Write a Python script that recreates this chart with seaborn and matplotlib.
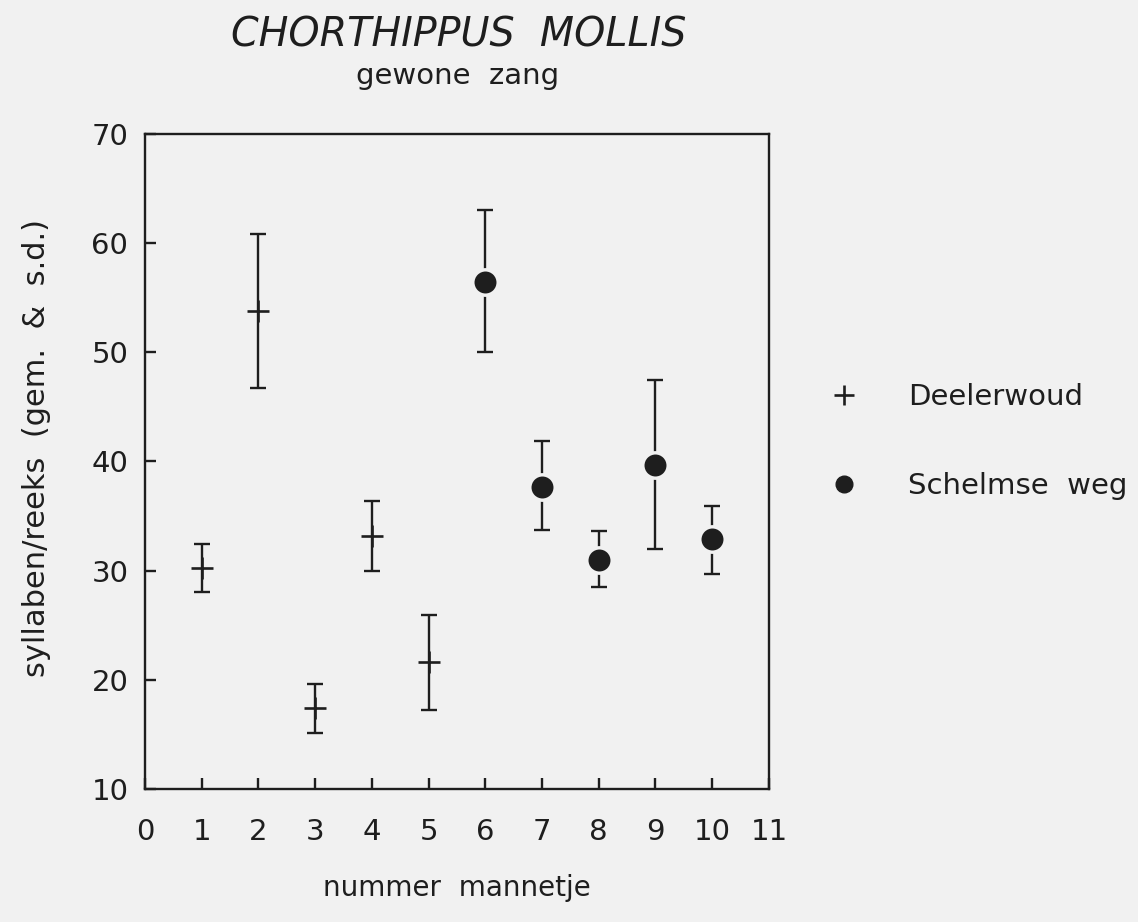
import matplotlib
matplotlib.use("Agg")
import matplotlib.pyplot as plt
from matplotlib.lines import Line2D
import seaborn as sns
import pandas as pd
import numpy as np

# Data
males_deel = [1, 2, 3, 4, 5]
mean_deel = [30.2, 53.8, 17.4, 33.2, 21.6]
low_deel = [28.0, 46.7, 15.1, 30.0, 17.2]
high_deel = [32.4, 60.8, 19.6, 36.4, 25.9]

males_schel = [6, 7, 8, 9, 10]
mean_schel = [56.4, 37.7, 31.0, 39.7, 32.9]
low_schel = [50.0, 33.7, 28.5, 32.0, 29.7]
high_schel = [63.0, 41.9, 33.6, 47.5, 35.9]

x_ticks = list(range(0, 12))
y_ticks = [10, 20, 30, 40, 50, 60, 70]

title = "CHORTHIPPUS  MOLLIS"
subtitle = "gewone  zang"
xlabel = "nummer  mannetje"
ylabel = "syllaben/reeks  (gem.  &  s.d.)"
labels = ["Deelerwoud", "Schelmse  weg"]

df = pd.DataFrame({
    "man": males_deel + males_schel,
    "mean": mean_deel + mean_schel,
    "low": low_deel + low_schel,
    "high": high_deel + high_schel,
    "site": ["Deelerwoud"] * len(males_deel) + ["Schelmse weg"] * len(males_schel),
})

sns.set_theme(style="ticks")
plt.rcParams["font.family"] = ["DejaVu Sans"]
ink = "#1e1e1e"
bg = "#f1f1f1"

fig = plt.figure(figsize=(11.38, 9.22), dpi=100, facecolor=bg)
ax = fig.add_axes([0.1274, 0.1443, 0.5483, 0.7104])
ax.set_facecolor(bg)

# error bars
yerr = np.vstack([df["mean"] - df["low"], df["high"] - df["mean"]])
ax.errorbar(df["man"], df["mean"], yerr=yerr, fmt="none", ecolor=ink,
            elinewidth=1.7, capsize=6, capthick=1.7, zorder=2)

d1 = df[df.site == "Deelerwoud"]
d2 = df[df.site == "Schelmse weg"]
# background-coloured halo so bars break near the dots
ax.scatter(d2["man"], d2["mean"], s=430, color=bg, zorder=3, linewidths=0)
sns.scatterplot(data=d1, x="man", y="mean", marker="+", s=230, color=ink,
                linewidth=1.9, ax=ax, zorder=4, legend=False)
sns.scatterplot(data=d2, x="man", y="mean", marker="o", s=250, color=ink,
                edgecolor=ink, linewidth=0, ax=ax, zorder=4, legend=False)

ax.set_xlim(0, 11)
ax.set_ylim(10, 70)
ax.set_xticks(x_ticks)
ax.set_yticks(y_ticks)
ax.tick_params(direction="in", length=8, width=1.7, colors=ink, labelsize=21)
ax.tick_params(axis="x", pad=21)
ax.tick_params(axis="y", pad=12)
for sp in ax.spines.values():
    sp.set_color(ink)
    sp.set_linewidth(1.7)

ax.set_xlabel(xlabel, fontsize=20, color=ink, labelpad=20)
ax.set_ylabel(ylabel, fontsize=22, color=ink, labelpad=26)
ax.yaxis.set_label_coords(-0.15, 0.52)

fig.text(0.403, 0.962, title, fontsize=28.5, style="italic", fontweight="light",
         color=ink, ha="center", va="center")
fig.text(0.402, 0.918, subtitle, fontsize=21, color=ink, ha="center", va="center")

handles = [
    Line2D([], [], marker="+", linestyle="none", color=ink, markersize=14, markeredgewidth=1.9),
    Line2D([], [], marker="o", linestyle="none", color=ink, markersize=12),
]
leg = ax.legend(handles, labels, loc="upper left", bbox_to_anchor=(1.05, 0.66),
                frameon=False, fontsize=21, labelspacing=2.1, handletextpad=1.6,
                handlelength=1.2)
for t in leg.get_texts():
    t.set_color(ink)

fig.savefig("out.png", dpi=100, facecolor=bg)
